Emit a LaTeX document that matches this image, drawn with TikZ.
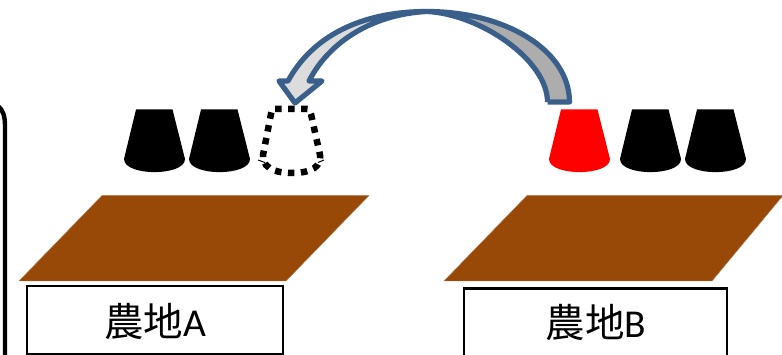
\documentclass[tikz,border=0pt]{standalone}
\usepackage{fontspec}
\setmainfont{Carlito}
\newfontfamily\cjkfont{Noto Sans CJK JP}
\definecolor{soil}{HTML}{984807}
\definecolor{arrowline}{HTML}{3A5F8B}
\definecolor{arrowlight}{HTML}{DCDCDC}
\definecolor{arrowdark}{HTML}{ADADAD}
\newcommand{\CupShape}[2]{%
  \fill[#2] (#1,159) -- (#1+12,109.5) -- (#1+48.5,109.5) -- (#1+61,159)
    .. controls (#1+61,176.5) and (#1,176.5) .. (#1,159) -- cycle;}
\tikzset{
  x=1pt,y=-1pt,
  field/.style={fill=soil,draw=soil!70!white,line width=.4pt},
  labelbox/.style={draw=black,line width=2.2pt,fill=white},
  labeltext/.style={font=\fontsize{39.5}{39.5}\selectfont,text=black,inner sep=0pt},
  arrowedge/.style={draw=arrowline,line width=5.2pt,line join=round},
  ghost/.style={draw=black,line width=6.5pt,dash pattern=on 6.5pt off 6.5pt}
}
\begin{document}
\begin{tikzpicture}
\useasboundingbox (0,0) rectangle (782,355);
\fill[white] (0,0) rectangle (782,355);
\clip (0,0) rectangle (782,355);
% left frame fragment
\draw[black,line width=4.4pt] (-2,106) .. controls (3,110) and (5,116) .. (5,126) -- (5,357);
% fields
\draw[field] (19,281) -- (102,195.5) -- (369,195.5) -- (286,281) -- cycle;
\draw[field] (444,281) -- (527,195.5) -- (783,195.5) -- (712,281) -- cycle;
% label boxes
\draw[labelbox] (27,286) rectangle (283,354.5);
\draw[labelbox] (464,288.5) rectangle (727,360);
\node[labeltext] (labelA) at (155,322) {{\cjkfont 農地}A};
\node[labeltext] (labelB) at (596,323) {{\cjkfont 農地}B};
% cups
\CupShape{124}{black}
\CupShape{189}{black}
\CupShape{549}{red}
\CupShape{620}{black}
\CupShape{685}{black}
% moved cup outline
\draw[ghost] (275,109) -- (307,109) .. controls (311,109) and (309,110) .. (311,114)
  -- (320,155) .. controls (322,172) and (300,173) .. (292,173)
  .. controls (284,173) and (262,172) .. (263,155) -- (271,114) .. controls (272,110) and (272,109) .. (275,109);
\draw[black,line width=1pt] (258,160) -- (265,162.5);
\draw[black,line width=1pt] (318,162.5) -- (324,160);
% curved arrow
\path[fill=arrowdark] (569.5,102) .. controls (569.5,50) and (505,11.5) .. (427,11.5)
  .. controls (480,14) and (547.5,60) .. (547.5,102) -- cycle;
\path[fill=arrowlight] (427,11.5) .. controls (360,11.5) and (312,37) .. (288,81) -- (279,81) -- (295,103) -- (322,81) -- (309,81)
  .. controls (330,40) and (375,14) .. (427,11.5) -- cycle;
\draw[arrowedge] (547.5,102) -- (569.5,102) .. controls (569.5,50) and (505,11.5) .. (427,11.5)
  .. controls (360,11.5) and (312,37) .. (288,81) -- (279,81) -- (295,103) -- (322,81) -- (309,81)
  .. controls (330,40) and (375,14) .. (427,11.5) .. controls (480,14) and (547.5,60) .. (547.5,102);
\end{tikzpicture}
\end{document}
